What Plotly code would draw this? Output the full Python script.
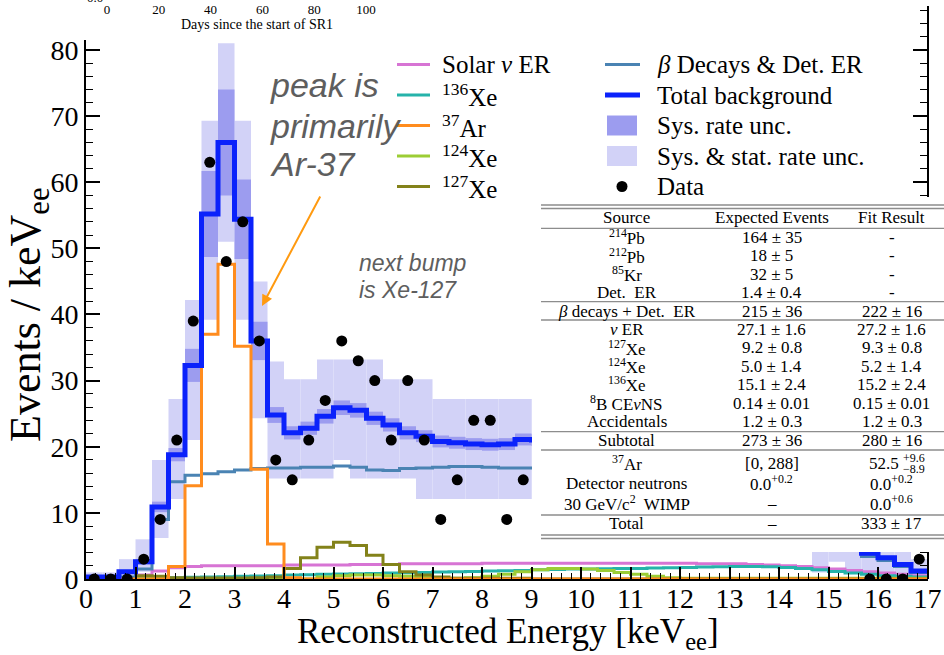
import numpy as np
import plotly.graph_objects as go

W, H = 944, 655

# ---------------------------------------------------------------- data
# Reconstructed-energy histogram: 51 bins of 1/3 keV from 0 to 17 keV
bin_edges = np.arange(52) / 3.0
bin_centers = 0.5 * (bin_edges[:-1] + bin_edges[1:])
bin_width = 1.0 / 3.0

# observed rate (events / keV_ee), one value per bin
data_rate = [0, 0, 0, 3, 9, 21, 39, 63, 48, 54, 36, 18, 15, 21, 27, 36, 33,
             30, 21, 30, 21, 9, 15, 24, 24, 9, 15,
             24, 21, 27, 24, 21, 27, 18, 24, 21, 21, 18, 18, 15, 18, 12, 12,
             9, 6, 6, 6,
             0, 0, 0, 3]

total_bkg = [0.3, 0.3, 1.1, 2.6, 10.9, 18.8, 32.3, 55.2, 66.0, 54.4, 36.0,
             24.8, 22.1, 22.8, 24.6, 25.9, 25.5, 24.3, 23.3, 22.1, 21.6, 20.8,
             20.6, 20.4, 20.3, 20.4, 21.1,
             21.0, 20.8, 20.6, 20.4, 20.1, 19.8, 19.4, 19.0, 18.5, 17.9, 17.2,
             16.4, 15.5, 14.4, 13.1, 11.6, 9.8, 7.2, 6.2, 5.2,
             3.9, 3.2, 2.2, 1.2]

# half-width of the systematic rate band around the total background
sys_halfwidth = [0.1, 0.1, 0.2, 0.4, 0.8, 1.0, 2.5, 6.5, 8.0, 6.0, 2.9, 1.2,
                 1.0, 1.0, 1.1, 1.1, 1.1, 1.0, 1.0, 1.0, 0.9, 0.9, 0.9, 0.9,
                 0.9, 0.9, 0.9,
                 0.9, 0.9, 0.9, 0.9, 0.9, 0.8, 0.8, 0.8, 0.8, 0.8, 0.7, 0.7,
                 0.7, 0.6, 0.6, 0.5, 0.5, 0.4, 0.4, 0.3,
                 0.3, 0.3, 0.2, 0.2]

# systematic + statistical band edges
band_lo = [0.0, 0.0, 0.0, 1.1, 6.2, 12.1, 21.0, 39.2, 51.0, 39.2, 24.3, 15.2,
           15.2, 15.2, 15.2, 18.0, 15.2, 15.2, 15.2, 15.2, 12.1, 12.1, 12.1,
           12.1, 12.1, 12.1, 12.1,
           12.1, 12.1, 12.1, 12.1, 12.1, 12.1, 12.1, 12.1, 12.1, 12.1, 11.0,
           10.0, 9.0, 8.0, 7.0, 6.0, 5.0, 1.0, 2.6, 1.0,
           1.0, 0.6, 0.3, 0.0]
band_hi = [1.0, 1.0, 3.0, 6.0, 18.0, 27.2, 42.2, 69.3, 81.0, 69.3, 45.0, 32.9,
           30.2, 30.2, 33.2, 33.2, 33.2, 33.2, 30.2, 30.2, 30.2, 27.2, 27.2,
           27.2, 27.2, 27.2, 27.2,
           27.2, 27.2, 27.2, 27.2, 27.2, 27.2, 27.2, 27.2, 27.2, 24.0, 24.0,
           23.0, 22.0, 21.0, 19.0, 17.0, 15.0, 12.1, 12.1, 9.0,
           6.0, 5.0, 4.4, 3.0]

beta_det_er = [0.0, 0.0, 0.3, 1.5, 9.0, 14.7, 15.7, 15.9, 16.2, 16.5, 16.7,
               16.8, 16.8, 16.9, 16.9, 17.1, 16.9, 16.5, 16.4, 16.7, 16.8,
               16.9, 17.0, 17.0, 16.9, 16.8, 16.8,
               16.8, 16.7, 16.6, 16.5, 16.3, 16.1, 15.8, 15.5, 15.1, 14.6,
               14.0, 13.3, 12.5, 11.6, 10.5, 9.3, 7.9, 5.9, 5.1, 4.4,
               3.4, 2.8, 1.9, 1.0]

ar37 = [0, 0, 0, 0, 0, 1.9, 14.1, 37.0, 47.6, 35.2, 16.6, 5.3, 0.2,
        0, 0, 0, 0, 0, 0, 0, 0, 0, 0, 0, 0, 0, 0,
        0, 0, 0, 0, 0, 0, 0, 0, 0, 0, 0, 0, 0, 0, 0, 0, 0, 0, 0, 0,
        0, 0, 0, 0]

xe127 = [0, 0, 0, 0.5, 0.4, 0.2, 0.15, 0.15, 0.15, 0.15, 0.2, 0.3, 1.6, 3.2,
         4.8, 5.55, 5.05, 3.6, 2.2, 1.1, 0.6, 0.3, 0.1, 0.1, 0.1, 0.1, 0.1,
         0, 0, 0, 0, 0, 0, 0, 0, 0, 0, 0, 0, 0, 0, 0, 0, 0, 0, 0, 0,
         0, 0, 0, 0]

xe124 = [0, 0, 0, 0, 0, 0, 0, 0, 0, 0, 0, 0, 0, 0,
         0.3, 0.5, 0.6, 0.6, 0.5, 0.4, 0.3, 0.1, 0.1, 0.2, 0.4, 0.7, 1.1,
         1.4, 1.6, 1.6, 1.5, 1.3, 1.0, 0.7, 0.4, 0.2, 0.1, 0.1, 0.1, 0.1,
         0.1, 0.1, 0.1, 0.1, 0.1, 0.1, 0.1,
         0.1, 0.1, 0.1, 0.1]

xe136 = [0, 0, 0.05, 0.1, 0.15, 0.2, 0.25, 0.3, 0.35, 0.4, 0.45, 0.5, 0.6,
         0.65, 0.7, 0.75, 0.8, 0.85, 0.9, 0.95, 1.0, 1.05, 1.1, 1.15, 1.2,
         1.25, 1.3,
         1.4, 1.45, 1.5, 1.5, 1.55, 1.6, 1.6, 1.65, 1.7, 1.75, 1.8, 1.85,
         1.9, 1.9, 1.85, 1.75, 1.6, 1.4, 1.15, 0.9,
         0.7, 0.5, 0.4, 0.3]

solar_nu = [0, 0, 0.1, 0.6, 1.2, 1.7, 1.9, 2.0, 2.0, 2.0, 2.0, 2.0, 2.1, 2.1,
            2.1, 2.1, 2.2, 2.2, 2.2, 2.3, 2.3, 2.3, 2.3, 2.3, 2.4, 2.4, 2.4,
            2.4, 2.4, 2.4, 2.4, 2.4, 2.4, 2.4, 2.4, 2.4, 2.4, 2.3, 2.3, 2.3,
            2.2, 2.1, 2.0, 1.9, 1.7, 1.5, 1.3,
            1.1, 0.9, 0.7, 0.5]

# secondary time axis (days) shown along the top edge
days_ticks = [0, 20, 40, 60, 80, 100]

# summary table of expected and fitted event counts
table_source = ["Source", "<sup>214</sup>Pb", "<sup>212</sup>Pb", "<sup>85</sup>Kr",
                "Det.  ER", "<i>β</i> decays + Det.  ER", "<i>ν</i> ER",
                "<sup>127</sup>Xe", "<sup>124</sup>Xe", "<sup>136</sup>Xe",
                "<sup>8</sup>B CE<i>ν</i>NS", "Accidentals", "Subtotal",
                "<sup>37</sup>Ar", "Detector neutrons",
                "30 GeV/c<sup>2</sup>  WIMP", "Total"]
table_expected = ["Expected Events", "164 ± 35", "18 ± 5", "32 ± 5", "1.4 ± 0.4",
                  "215 ± 36", "27.1 ± 1.6", "9.2 ± 0.8", "5.0 ± 1.4",
                  "15.1 ± 2.4", "0.14 ± 0.01", "1.2 ± 0.3", "273 ± 36",
                  "[0, 288]", "0.0<sup>+0.2</sup>", "–", "–"]
table_fit = ["Fit Result", "-", "-", "-", "-", "222 ± 16", "27.2 ± 1.6",
             "9.3 ± 0.8", "5.2 ± 1.4", "15.2 ± 2.4", "0.15 ± 0.01",
             "1.2 ± 0.3", "280 ± 16", "", "0.0<sup>+0.2</sup>",
             "0.0<sup>+0.6</sup>", "333 ± 17"]
ar37_fit = ("52.5", "+9.6", "−8.9")

# ---------------------------------------------------------------- style
C_SOLAR = "#d774d4"
C_XE136 = "#26b3aa"
C_AR37 = "#ff8c1e"
C_XE124 = "#9ccd35"
C_XE127 = "#83821a"
C_BETA = "#4a83b3"
C_TOTAL = "#0b22fb"
C_SYS = "#9c9cef"
C_SYSSTAT = "#d2d2f7"
C_NOTE = "#5e5e5e"
SERIF = "Liberation Serif, Times New Roman, serif"
SANS = "Liberation Sans, Arial, sans-serif"

# pixel geometry of the main axes
X0_PX, X1_PX = 86.0, 927.5
Y0_PX, YTOP_PX = 579.0, 40.0
SPINE_TOP_PX = 6.0
PX_PER_UNIT = 6.6135


def fx(p):
    return p / W


def fy(p):
    return 1.0 - p / H


fig = go.Figure()

total = np.array(total_bkg)
sys_hw = np.array(sys_halfwidth)

# uncertainty bands as per-bin boxes
fig.add_trace(go.Bar(x=bin_centers, base=band_lo,
                     y=np.array(band_hi) - np.array(band_lo), width=bin_width,
                     marker=dict(color=C_SYSSTAT, line=dict(width=0)),
                     hoverinfo="skip"))
fig.add_trace(go.Bar(x=bin_centers, base=total - sys_hw, y=2 * sys_hw,
                     width=bin_width,
                     marker=dict(color=C_SYS, line=dict(width=0)),
                     hoverinfo="skip"))


def step(values, color, width):
    vals = list(values)
    return go.Scatter(x=bin_edges, y=vals + [vals[-1]], mode="lines",
                      line=dict(color=color, width=width, shape="hv"),
                      hoverinfo="skip")


fig.add_trace(step(solar_nu, C_SOLAR, 3))
fig.add_trace(step(xe136, C_XE136, 3))
fig.add_trace(step(xe124, C_XE124, 3))
fig.add_trace(step(xe127, C_XE127, 3))
fig.add_trace(step(beta_det_er, C_BETA, 3))
fig.add_trace(step(ar37, C_AR37, 3))
fig.add_trace(step(total_bkg, C_TOTAL, 5))
fig.add_trace(go.Scatter(x=bin_centers, y=data_rate, mode="markers",
                         marker=dict(color="black", size=11),
                         hoverinfo="skip"))

# trace that carries the top time axis and the right-hand spine
fig.add_trace(go.Scatter(x=[None], y=[None], xaxis="x2", yaxis="y2",
                         mode="markers", hoverinfo="skip"))

tick_font = dict(family=SERIF, size=28, color="black")
fig.update_layout(
    width=W, height=H, margin=dict(l=0, r=0, t=0, b=0, autoexpand=False),
    paper_bgcolor="white", plot_bgcolor="rgba(0,0,0,0)",
    barmode="overlay", showlegend=False,
    xaxis=dict(domain=[fx(X0_PX), fx(X1_PX)], range=[0, 17],
               automargin=False, ticklabelstandoff=-6,
               tick0=0, dtick=1, ticks="inside", ticklen=12, tickwidth=1.5,
               tickcolor="black", showline=True, linewidth=1.6,
               linecolor="black", showgrid=False, zeroline=False,
               tickfont=tick_font,
               minor=dict(dtick=0.2, ticks="inside", ticklen=6,
                          tickwidth=1.2, tickcolor="black")),
    yaxis=dict(domain=[fy(Y0_PX), fy(YTOP_PX)],
               range=[0, (Y0_PX - YTOP_PX) / PX_PER_UNIT],
               automargin=False,
               tick0=0, dtick=10, ticks="inside", ticklen=14, tickwidth=1.5,
               tickcolor="black", showline=True, linewidth=1.6,
               linecolor="black", showgrid=False, zeroline=False,
               tickfont=tick_font,
               minor=dict(dtick=2, ticks="inside", ticklen=7,
                          tickwidth=1.2, tickcolor="black")),
    xaxis2=dict(anchor="free", position=1.0, domain=[fx(107), fx(366)],
                range=[0, 100], tickvals=days_ticks, ticks="",
                automargin=False,
                showline=False, showgrid=False, zeroline=False,
                tickfont=dict(family=SERIF, size=13, color="black")),
    yaxis2=dict(anchor="free", position=fx(X1_PX), side="right",
                domain=[fy(Y0_PX), fy(SPINE_TOP_PX)],
                range=[0, (Y0_PX - SPINE_TOP_PX) / PX_PER_UNIT],
                automargin=False,
                tick0=0, dtick=10, ticks="inside", ticklen=14, tickwidth=1.5,
                tickcolor="black", showticklabels=False, showline=True,
                linewidth=1.6, linecolor="black", showgrid=False,
                zeroline=False,
                minor=dict(dtick=2, ticks="inside", ticklen=7,
                           tickwidth=1.2, tickcolor="black")),
)

shapes = []
annotations = []


def text(x, y, s, size, family=SERIF, color="black", xanchor="center",
         yanchor="middle", angle=0):
    annotations.append(dict(x=fx(x), y=fy(y), xref="paper", yref="paper",
                            text=s, showarrow=False, xanchor=xanchor,
                            yanchor=yanchor, textangle=angle,
                            font=dict(family=family, size=size, color=color)))


# axis titles
text(508, 633, "Reconstructed Energy [keV<sub>ee</sub>]", 35)
text(28, 315, "Events / keV<sub>ee</sub>", 44, angle=-90)

# time-axis title and clipped label at the top edge
text(257, 25, "Days since the start of SR1", 14)
text(95, -3, "0.0", 13)

# notes on the spectrum
note_font = 34
text(268, 85, "<i>peak is</i>", note_font, SANS, C_NOTE, xanchor="left")
text(268, 126, "<i>primarily</i>", note_font, SANS, C_NOTE, xanchor="left")
text(268, 164, "<i>Ar-37</i>", note_font, SANS, C_NOTE, xanchor="left")
text(357, 263, "<i>next bump</i>", 23, SANS, C_NOTE, xanchor="left")
text(357, 290, "<i>is Xe-127</i>", 23, SANS, C_NOTE, xanchor="left")
annotations.append(dict(x=fx(262), y=fy(306), xref="paper", yref="paper",
                        ax=321 - 262, ay=195 - 306, text="", showarrow=True,
                        arrowhead=2, arrowsize=1.1, arrowwidth=2,
                        arrowcolor="#ff9a10", standoff=0))

# legend, two columns
leg_rows = [64.5, 95, 125.5, 156, 186.5]
left_items = [("Solar <i>ν</i> ER", C_SOLAR), ("<sup>136</sup>Xe", C_XE136),
              ("<sup>37</sup>Ar", C_AR37), ("<sup>124</sup>Xe", C_XE124),
              ("<sup>127</sup>Xe", C_XE127)]
for (label, color), yy in zip(left_items, leg_rows):
    shapes.append(dict(type="line", xref="paper", yref="paper",
                       x0=fx(397), x1=fx(430), y0=fy(yy), y1=fy(yy),
                       line=dict(color=color, width=3), layer="above"))
    text(440, yy, label, 25, xanchor="left")

shapes.append(dict(type="line", xref="paper", yref="paper", x0=fx(605),
                   x1=fx(640), y0=fy(leg_rows[0]), y1=fy(leg_rows[0]),
                   line=dict(color=C_BETA, width=3), layer="above"))
shapes.append(dict(type="line", xref="paper", yref="paper", x0=fx(605),
                   x1=fx(640), y0=fy(leg_rows[1]), y1=fy(leg_rows[1]),
                   line=dict(color=C_TOTAL, width=5), layer="above"))
for color, yy in ((C_SYS, leg_rows[2]), (C_SYSSTAT, leg_rows[3])):
    shapes.append(dict(type="rect", xref="paper", yref="paper", x0=fx(607),
                       x1=fx(637), y0=fy(yy + 10), y1=fy(yy - 10),
                       fillcolor=color, line=dict(width=0), layer="above"))
shapes.append(dict(type="circle", xref="paper", yref="paper",
                   x0=fx(616.5), x1=fx(627.5), y0=fy(leg_rows[4] + 5.5),
                   y1=fy(leg_rows[4] - 5.5), fillcolor="black",
                   line=dict(width=0), layer="above"))
right_labels = ["<i>β</i> Decays & Det. ER", "Total background",
                "Sys. rate unc.", "Sys. & stat. rate unc.", "Data"]
for label, yy in zip(right_labels, leg_rows):
    text(655, yy, label, 25, xanchor="left")

# table panel
shapes.append(dict(type="rect", xref="paper", yref="paper", x0=fx(532),
                   x1=fx(W), y0=fy(552), y1=fy(197), fillcolor="white",
                   line=dict(width=0), layer="above"))
rule_color = "#8d8d8d"
for yy in (205, 208.5, 228.3, 301.7, 320, 431.7, 450, 515, 535, 538.5):
    shapes.append(dict(type="line", xref="paper", yref="paper", x0=fx(541),
                       x1=fx(W), y0=fy(yy), y1=fy(yy),
                       line=dict(color=rule_color, width=1.3), layer="above"))

row_y = [217.3, 237.3, 256, 274.3, 292.3, 311, 329.3, 347.7, 366, 384.3,
         403.3, 421.7, 440.7, 463.3, 483.3, 503.3, 523.3]
col_x = (626.7, 771.7, 891.7)
tsize = 17
for yy, a, b, c in zip(row_y, table_source, table_expected, table_fit):
    text(col_x[0], yy, a, tsize)
    text(col_x[1], yy, b, tsize)
    if c:
        text(col_x[2], yy, c, tsize)
ar_row = row_y[13]
text(884, ar_row, ar37_fit[0], tsize)
text(901, ar_row - 5.5, ar37_fit[1], 12, xanchor="left")
text(901, ar_row + 5.5, ar37_fit[2], 12, xanchor="left")

fig.update_layout(shapes=shapes, annotations=annotations)

fig.write_html("out.html")
